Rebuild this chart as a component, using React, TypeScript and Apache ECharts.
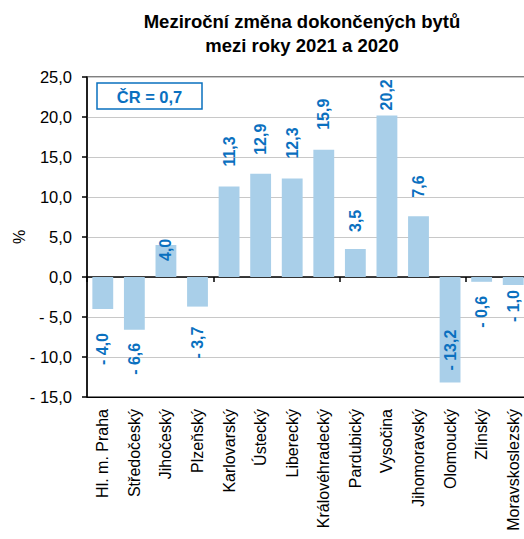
import React, { useEffect, useRef } from "react";
import * as echarts from "echarts";

const categories = [
  "Hl. m. Praha",
  "Středočeský",
  "Jihočeský",
  "Plzeňský",
  "Karlovarský",
  "Ústecký",
  "Liberecký",
  "Královéhradecký",
  "Pardubický",
  "Vysočina",
  "Jihomoravský",
  "Olomoucký",
  "Zlínský",
  "Moravskoslezský",
];
const changes = [-4.0, -6.6, 4.0, -3.7, 11.3, 12.9, 12.3, 15.9, 3.5, 20.2, 7.6, -13.2, -0.6, -1.0];
const yTicks = [-15, -10, -5, 0, 5, 10, 15, 20, 25];
const titleLines = ["Meziroční změna dokončených bytů", "mezi roky 2021 a 2020"];
const crText = "ČR = 0,7";

// label placement styles (distance from bar end, px); special placements for two bars
const labelDistance = [24, 13, 16, 20, 20, 19, 20, 20, 17, 5, 18.5, 12, 14, 5];
const labelMode = ["out", "out", "insideTop", "out", "out", "out", "out", "out", "out", "out", "out", "insideBottom", "out", "out"];

const BAR = "#a9cfe9";
const BLUE = "#0a70bf";
const FONT = "'Liberation Sans', Arial, sans-serif";

const fmt = (v: number) => (v < 0 ? "- " + Math.abs(v).toFixed(1) : v.toFixed(1)).replace(".", ",");

export default function App() {
  const ref = useRef<HTMLDivElement>(null);
  useEffect(() => {
    if (!ref.current) return;
    const chart = echarts.init(ref.current, null, { renderer: "svg" });
    const data = changes.map((v, i) => {
      const mode = labelMode[i];
      let label: any;
      if (mode === "insideTop") {
        label = { position: "insideTop", align: "left", distance: labelDistance[i] };
      } else if (mode === "insideBottom") {
        label = { position: "insideBottom", align: "left", distance: labelDistance[i] };
      } else if (v >= 0) {
        label = { position: "top", align: "left", distance: labelDistance[i] };
      } else {
        label = { position: "bottom", align: "right", distance: labelDistance[i] };
      }
      return { value: v, label };
    });
    chart.setOption({
      animation: false,
      textStyle: { fontFamily: FONT },
      grid: {
        left: 87,
        top: 77,
        width: 442,
        height: 320,
        show: true,
        borderColor: "#000",
        borderWidth: 1,
        containLabel: false,
        outerBoundsMode: "none",
      },
      graphic: [
        {
          type: "text",
          x: 302,
          y: 21.5,
          style: {
            text: titleLines[0],
            fontFamily: FONT,
            fontSize: 18.5,
            fontWeight: "bold",
            fill: "#000",
            align: "center",
            verticalAlign: "middle",
          },
        },
        {
          type: "text",
          x: 302,
          y: 45,
          style: {
            text: titleLines[1],
            fontFamily: FONT,
            fontSize: 18.5,
            fontWeight: "bold",
            fill: "#000",
            align: "center",
            verticalAlign: "middle",
          },
        },
        {
          type: "rect",
          shape: { x: 97, y: 83, width: 105, height: 26 },
          style: { fill: "#fff", stroke: BLUE, lineWidth: 1.5 },
          z: 10,
        },
        {
          type: "text",
          x: 149.5,
          y: 96.5,
          z: 11,
          style: {
            text: crText,
            fontFamily: FONT,
            fontSize: 16.5,
            fontWeight: "bold",
            fill: BLUE,
            align: "center",
            verticalAlign: "middle",
          },
        },
      ],
      xAxis: [
        {
          type: "category",
          data: categories,
          position: "bottom",
          axisLine: { onZero: false, lineStyle: { color: "#000", width: 1 } },
          axisTick: { show: false },
          axisLabel: {
            rotate: 90,
            interval: 0,
            margin: 12,
            fontSize: 16,
            color: "#000",
            fontFamily: FONT,
          },
        },
        {
          type: "category",
          data: categories,
          position: "bottom",
          axisLine: { onZero: true, lineStyle: { color: "#000", width: 1.5 } },
          axisTick: { show: true, length: 5, lineStyle: { color: "#000", width: 1.5 } },
          axisLabel: { show: false },
        },
      ],
      yAxis: {
        type: "value",
        min: yTicks[0],
        max: yTicks[yTicks.length - 1],
        interval: 5,
        name: "%",
        nameLocation: "middle",
        nameRotate: 90,
        nameGap: 60,
        nameMoveOverlap: false,
        nameTextStyle: { fontSize: 16, color: "#000", fontFamily: FONT },
        axisLine: { show: true, lineStyle: { color: "#000", width: 1.5 } },
        axisTick: { show: true, length: 5, lineStyle: { color: "#000", width: 1.5 } },
        splitLine: { show: true, lineStyle: { color: "#c8c8c8", width: 1 } },
        axisLabel: {
          margin: 15,
          fontSize: 16.5,
          color: "#000",
          fontFamily: FONT,
          formatter: (v: number) => fmt(v),
        },
      },
      series: [
        {
          type: "bar",
          xAxisIndex: 0,
          data,
          barWidth: "66%",
          itemStyle: { color: BAR },
          label: {
            show: true,
            rotate: 90,
            verticalAlign: "middle",
            fontSize: 16,
            fontWeight: "bold",
            color: BLUE,
            fontFamily: FONT,
            formatter: (p: any) => fmt(p.value),
          },
        },
      ],
    });
    return () => chart.dispose();
  }, []);
  return (
    <div
      ref={ref}
      style={{ position: "absolute", left: 0, top: 0, width: 524, height: 539, background: "#fff" }}
    />
  );
}
